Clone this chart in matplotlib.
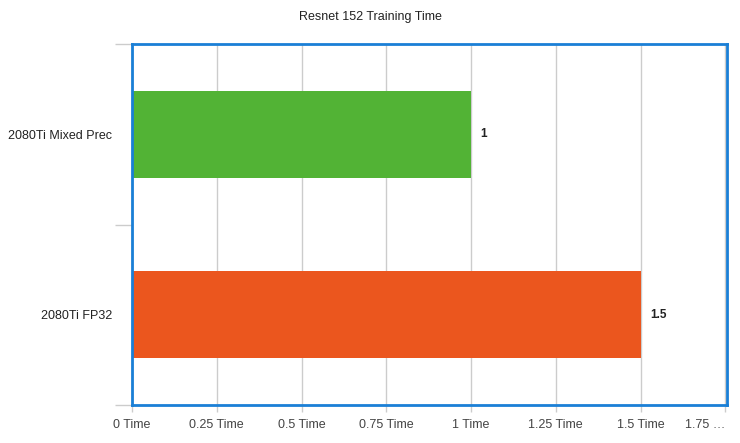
import numpy as np
import matplotlib
matplotlib.use("Agg")
from matplotlib import pyplot as plt
from matplotlib.ticker import FixedLocator

categories = ['2080Ti Mixed Prec', '2080Ti FP32']
times = [1.0, 1.5]
bar_colors = ['#52b335', '#eb561e']
xticks = [0, 0.25, 0.5, 0.75, 1, 1.25, 1.5, 1.75]
xtick_labels = ['0 Time', '0.25 Time', '0.5 Time', '0.75 Time', '1 Time', '1.25 Time', '1.5 Time', '1.75 \u2026']

plt.rcParams['font.family'] = ['Liberation Sans', 'DejaVu Sans']

fig = plt.figure(figsize=(7.4, 4.43), dpi=100)
ax = fig.add_axes([132/740, 1-405/443, (727-132)/740, (405-44)/443])

ypos = np.arange(len(categories))
ax.barh(ypos, times, height=0.48, color=bar_colors, zorder=2)
for y, v in zip(ypos, times):
    ax.text(v + 0.028, y, f'{v:g}', va='center', ha='left', fontsize=8.5, fontweight='bold', color='#222222')

ax.set_xlim(0, 1.755)
ax.set_ylim(1.5, -0.5)
ax.set_xticks(xticks)
ax.set_xticklabels(xtick_labels, fontsize=9, color='#444444')
# last label is squeezed against the right edge
ax.get_xticklabels()[-1].set_horizontalalignment('right')
ax.set_yticks(ypos)
ax.set_yticklabels(categories, fontsize=9, color='#222222')
ax.tick_params(axis='y', which='major', length=0, pad=14.5)
ax.yaxis.set_minor_locator(FixedLocator([-0.5, 0.5, 1.5]))
ax.tick_params(axis='y', which='minor', length=12, color='#cccccc', width=1)
ax.tick_params(axis='x', length=5, color='#cccccc', width=1, pad=5)
ax.grid(axis='x', color='#cccccc', linewidth=1, zorder=0)

for s in ax.spines.values():
    s.set_color('#1a7fd6')
    s.set_linewidth(2)

fig.text(370/740, 1-17/443, 'Resnet 152 Training Time', ha='center', va='center', fontsize=9, color='#222222')

fig.savefig('out.png', dpi=100)
